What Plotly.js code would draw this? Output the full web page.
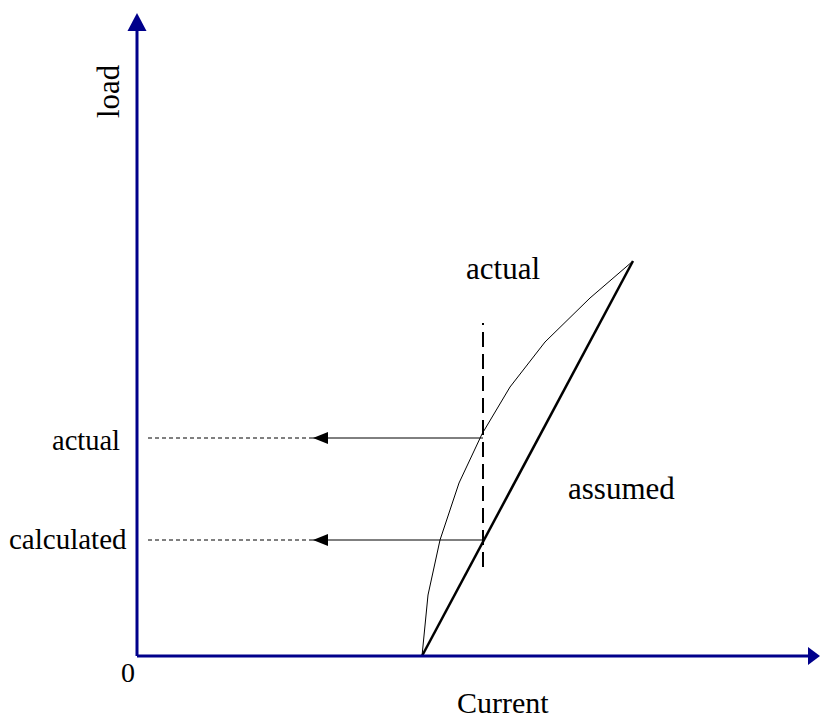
<!DOCTYPE html>
<html>
<head>
<meta charset="utf-8">
<script src="https://cdn.plot.ly/plotly-3.0.1.min.js"></script>
<style>html,body{margin:0;padding:0;background:#fff;}#chart{width:820px;height:718px;}</style>
</head>
<body>
<div id="chart"></div>
<script>
// ---- data (arbitrary units: current on x, load on y) ----
const currentActual = [28.5, 29.1, 30.3, 32.2, 34.5, 37.3, 40.8, 45.3, 49.6];
const loadActual    = [0.0, 6.1, 11.6, 17.3, 22.2, 26.9, 31.4, 35.8, 39.5];
const currentAssumed = [28.5, 49.6];
const loadAssumed    = [0.0, 39.5];
const probeCurrent = 34.6;              // vertical dashed probe position
const probeSpan = [8.9, 33.3];          // extent of the dashed probe
const loadMarks = [21.8, 11.6];         // read-off loads
const loadMarkLabels = ["actual", "calculated"];
const arrowEnd = 17.6;                  // where the solid arrow ends
const leaderEnd = 1.0;                  // where the dashed leader ends
const xMax = 68.3, yMax = 64.3;         // axis extents (arrow tips)

const navy = "#00008B";
const serif = "Liberation Serif, Times New Roman, serif";

const traces = [
  {x: currentActual, y: loadActual, mode: "lines", line: {color: "#000", width: 1}, hoverinfo: "skip"},
  {x: currentAssumed, y: loadAssumed, mode: "lines", line: {color: "#000", width: 2.5}, hoverinfo: "skip"},
  {x: [probeCurrent, probeCurrent], y: probeSpan, mode: "lines", line: {color: "#000", width: 2, dash: "15px,7px"}, hoverinfo: "skip"}
];
loadMarks.forEach(v => {
  traces.push({x: [probeCurrent, arrowEnd], y: [v, v], mode: "lines", line: {color: "#000", width: 1}, hoverinfo: "skip"});
  traces.push({x: [arrowEnd, leaderEnd], y: [v, v], mode: "lines", line: {color: "#000", width: 1, dash: "4px,3px"}, hoverinfo: "skip"});
});

const shapes = [
  {type: "line", xref: "x", yref: "y", x0: 0, y0: 0, x1: xMax - 0.5, y1: 0, line: {color: navy, width: 3}, layer: "above"},
  {type: "line", xref: "x", yref: "y", x0: 0, y0: 0, x1: 0, y1: yMax - 1, line: {color: navy, width: 3}, layer: "above"},
  {type: "path", xref: "x", yref: "y", xsizemode: "pixel", ysizemode: "pixel", xanchor: xMax, yanchor: 0,
   path: "M0,0 L-12,9 L-12,-9 Z", fillcolor: navy, line: {width: 0}, layer: "above"},
  {type: "path", xref: "x", yref: "y", xsizemode: "pixel", ysizemode: "pixel", xanchor: 0, yanchor: yMax,
   path: "M0,0 L-9.5,-18 L9.5,-18 Z", fillcolor: navy, line: {width: 0}, layer: "above"}
];
loadMarks.forEach(v => {
  shapes.push({type: "path", xref: "x", yref: "y", xsizemode: "pixel", ysizemode: "pixel", xanchor: arrowEnd, yanchor: v,
    path: "M0,0 L15,6 L15,-6 Z", fillcolor: "#000", line: {width: 0}, layer: "above"});
});

const ann = (text, x, y, size, extra) => Object.assign({
  text: text, x: x, y: y, xref: "x", yref: "y", showarrow: false,
  font: {family: serif, size: size, color: "#000"}
}, extra || {});

const annotations = [
  ann("load", -2.9, 56.5, 31, {textangle: -90}),
  ann("Current", 36.6, -4.6, 30),
  ann("0", -0.9, -1.6, 28),
  ann("actual", 36.6, 38.8, 31),
  ann("assumed", 48.4, 16.8, 31),
  ann(loadMarkLabels[0], -1.5, loadMarks[0] - 0.2, 28.5, {xanchor: "right"}),
  ann(loadMarkLabels[1], -0.8, loadMarks[1] + 0.1, 29, {xanchor: "right"})
];

const layout = {
  width: 820, height: 718,
  margin: {l: 0, r: 0, t: 0, b: 0, pad: 0},
  paper_bgcolor: "#fff", plot_bgcolor: "#fff",
  showlegend: false,
  xaxis: {range: [-13.7, 68.3], visible: false, fixedrange: true},
  yaxis: {range: [-6.2, 65.6], visible: false, fixedrange: true},
  shapes: shapes,
  annotations: annotations
};

Plotly.newPlot("chart", traces, layout, {staticPlot: true});
</script>
</body>
</html>
